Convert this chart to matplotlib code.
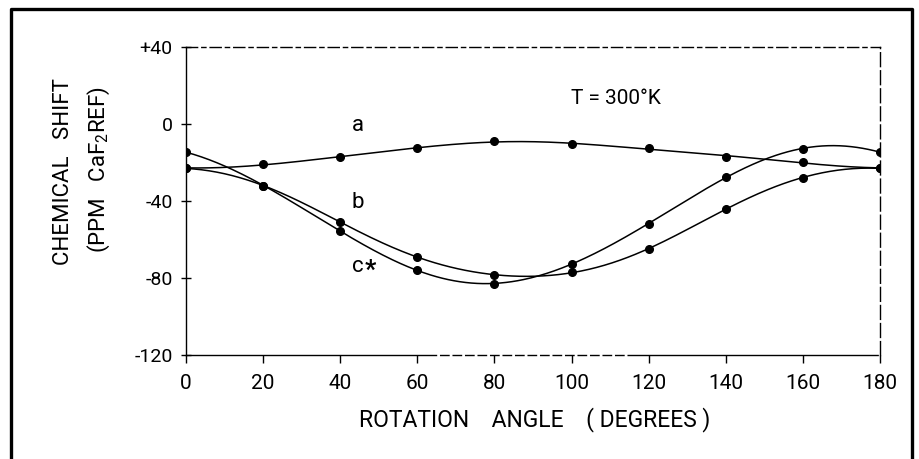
import matplotlib.pyplot as plt
import numpy as np
from matplotlib.lines import Line2D

plt.rcParams['font.family'] = ['Roboto', 'DejaVu Sans']
plt.rcParams['font.weight'] = 'normal'
plt.rcParams['mathtext.fontset'] = 'custom'
plt.rcParams['mathtext.rm'] = 'Roboto'
plt.rcParams['mathtext.it'] = 'Roboto'

# rotation angle (degrees) and chemical shift (ppm, CaF2 reference)
angle = [0, 20, 40, 60, 80, 100, 120, 140, 160, 180]
shift_a = [-23, -21, -17, -12.5, -9, -10.5, -12.5, -17, -19.7, -23]
shift_b = [-23, -32, -51, -69, -78.5, -77, -65, -44, -28, -23]
shift_c = [-14.5, -32, -55.6, -76, -83, -72.5, -52, -27.5, -13, -14.5]

yticks = [40, 0, -40, -80, -120]
ytick_labels = ['+40', '0', '-40', '-80', '-120']


def fourier_curve(x, y, xs, nh=3):
    # smooth periodic (180 deg) curve through the measured points
    def basis(deg):
        t = np.radians(np.asarray(deg, dtype=float)) * 2
        cols = [np.ones_like(t)]
        for k in range(1, nh + 1):
            cols += [np.cos(k * t), np.sin(k * t)]
        return np.column_stack(cols)
    coef = np.linalg.lstsq(basis(x), np.asarray(y, dtype=float), rcond=None)[0]
    return basis(xs) @ coef


fig = plt.figure(figsize=(9.2, 4.59), dpi=100)
ax = fig.add_axes([186 / 920, 1 - 355 / 459, 694 / 920, 308 / 459])

xs = np.linspace(0, 180, 361)
for ys in (shift_a, shift_b, shift_c):
    ax.plot(xs, fourier_curve(angle, ys, xs), color='black', lw=1.1)
    ax.plot(angle, ys, 'o', color='black', ms=5.5)

ax.set_xlim(0, 180)
ax.set_ylim(-120, 40)
ax.set_xticks(angle)
ax.set_xticklabels([str(a) for a in angle], fontsize=15)
ax.set_yticks(yticks)
ax.set_yticklabels(ytick_labels, fontsize=14)
ax.tick_params(axis='x', direction='out', length=6, width=1, pad=8)
ax.tick_params(axis='y', direction='inout', length=7, width=1, pad=6)

for s in ax.spines.values():
    s.set_linewidth(1)
ax.spines['top'].set_linestyle((0, (8, 3, 3, 3)))
ax.spines['right'].set_linestyle((0, (10, 3)))
ax.spines['bottom'].set_linestyle((0, (180, 3) + (6, 3) * 40))

ax.text(43, -1, 'a', fontsize=16, ha='left', va='center')
ax.text(43, -41, 'b', fontsize=16, ha='left', va='center')
ax.text(43, -74, 'c', fontsize=16, ha='left', va='center')
ax.annotate('*', xy=(43, -74), xytext=(9, -3), textcoords='offset points',
            fontsize=18, fontweight='bold', ha='left', va='center')
ax.text(111.5, 13, 'T = 300°K', fontsize=15, ha='center', va='center')

fig.text(535 / 920, 1 - 420 / 459, 'ROTATION    ANGLE    ( DEGREES )',
         fontsize=16.5, ha='center', va='center')
fig.text(64 / 920, 1 - 172 / 459, 'CHEMICAL   SHIFT',
         fontsize=16, rotation=90, ha='center', va='center')
fig.text(99 / 920, 1 - 170 / 459, r'(PPM   CaF$_2$REF)',
         fontsize=16, rotation=90, ha='center', va='center')

# outer frame (open at the bottom)
fx = [11 / 920, 11 / 920, 912 / 920, 912 / 920]
fy = [0, 1 - 9 / 459, 1 - 9 / 459, 0]
fig.add_artist(Line2D(fx, fy, transform=fig.transFigure, color='black', lw=2.4))

fig.savefig('out.png', dpi=100)
